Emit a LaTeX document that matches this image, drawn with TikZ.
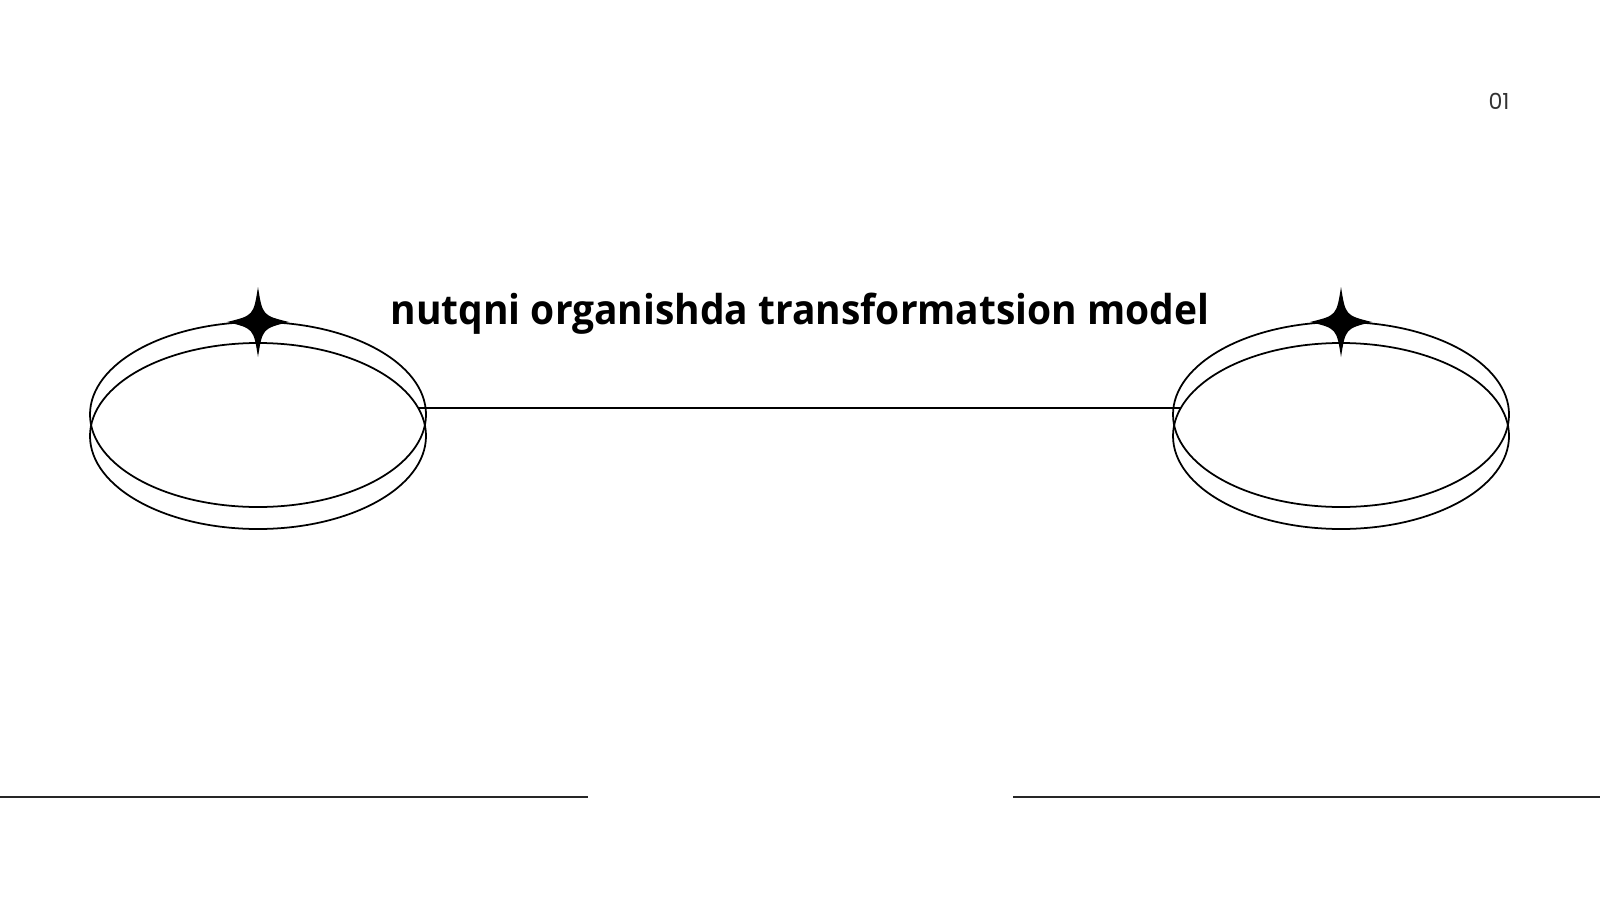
\documentclass[tikz,border=0pt]{standalone}
\usepackage{fontspec}
\setmainfont{Open Sans}
\newfontfamily\titlefont{Open Sans}[FakeStretch=0.947]
\newfontfamily\numfont{Poppins}
\usepackage{xcolor}
\usetikzlibrary{shapes.geometric,positioning}
\definecolor{numgray}{HTML}{333333}
\tikzset{
  ring/.style={draw,ellipse,inner sep=0pt,line width=0.5pt,minimum width=3.36cm},
  sparkle/.pic={
    \fill (0,0.35) .. controls (0.045,0.065) .. (0.31,0)
                   .. controls (0.045,-0.065) .. (0,-0.35)
                   .. controls (-0.045,-0.065) .. (-0.31,0)
                   .. controls (-0.045,0.065) .. cycle;
  }
}

\begin{document}
\begin{tikzpicture}
    \useasboundingbox (0,0) rectangle (16,9);
    % left pair of rings
    \node[ring,minimum height=1.85cm] (topL) at (2.58,4.855) {};
    \node[ring,minimum height=1.86cm] (botL) at (2.58,4.64) {};
    % right pair of rings
    \node[ring,minimum height=1.85cm] (topR) at (13.41,4.855) {};
    \node[ring,minimum height=1.86cm] (botR) at (13.41,4.64) {};

    \pic at (2.58,5.78) {sparkle};
    \pic at (13.41,5.78) {sparkle};

    \draw[line width=0.5pt] (botL.10) -- (botR.170);

    \node[anchor=base,font=\titlefont\fontsize{11.7pt}{14pt}\selectfont\bfseries] (title) at (8,5.755) {nutqni organishda transformatsion model};
    \node[anchor=base,text=numgray,font=\numfont\fontsize{6.3pt}{7pt}\selectfont] (num) at (14.99,7.90) {01};

    % rules at the bottom
    \draw[line width=0.55pt,black!85] (0,1.03) -- (5.88,1.03);
    \draw[line width=0.55pt,black!85] (10.13,1.03) -- (16,1.03);
\end{tikzpicture}
\end{document}
